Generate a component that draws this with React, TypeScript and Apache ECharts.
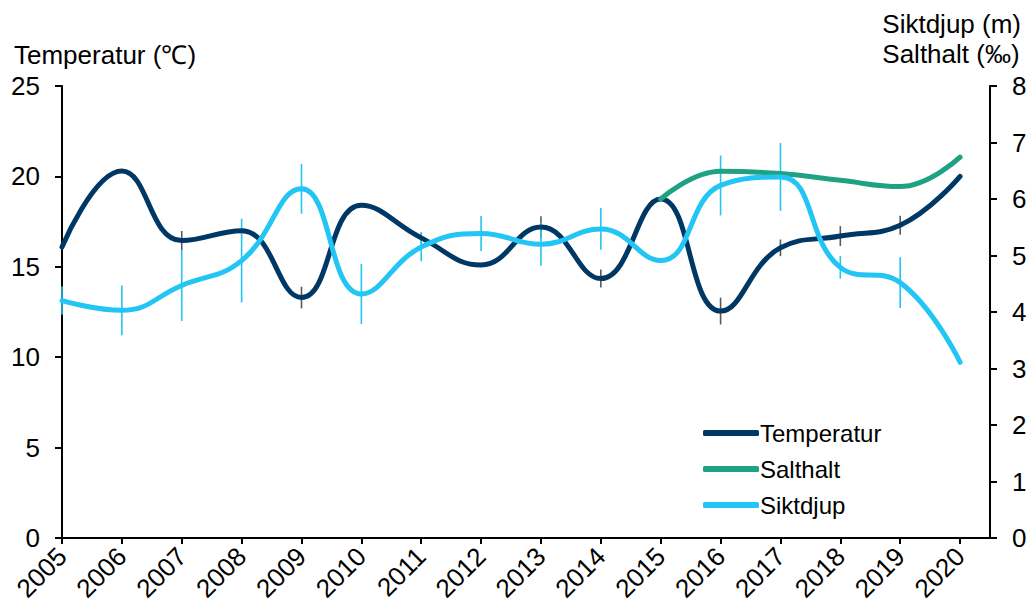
import React, { useEffect, useRef } from "react";
import * as echarts from "echarts";

const years = [2005, 2006, 2007, 2008, 2009, 2010, 2011, 2012, 2013, 2014, 2015, 2016, 2017, 2018, 2019, 2020];
const temperatur = [16.1, 20.3, 16.45, 17.0, 13.3, 18.4, 16.6, 15.1, 17.2, 14.35, 18.75, 12.55, 16.05, 16.7, 17.3, 20.0];
const tempErr = [0, 0, 0.53, 0, 0.6, 0, 0.3, 0, 0.6, 0.5, 0, 0.74, 0.46, 0.55, 0.53, 0];
const salthaltYears = [2015, 2016, 2017, 2018, 2019, 2020];
const salthalt = [6.0, 6.49, 6.45, 6.33, 6.22, 6.74];
const siktdjup = [4.2, 4.03, 4.47, 4.91, 6.18, 4.32, 5.15, 5.39, 5.2, 5.47, 4.91, 6.24, 6.39, 4.79, 4.52, 3.11];
const siktErr = [0.25, 0.44, 0.63, 0.74, 0.44, 0.53, 0.25, 0.31, 0.38, 0.37, 0, 0.53, 0.6, 0.2, 0.45, 0];
const leftTicks = [0, 5, 10, 15, 20, 25];
const rightTicks = [0, 1, 2, 3, 4, 5, 6, 7, 8];

const FONT = "'Liberation Sans', Arial, sans-serif";
const C_TEMP = "#003865";
const C_SALT = "#1fa283";
const C_SIKT = "#22c5f4";
const C_ERR_T = "#595959";

export default function App() {
  const ref = useRef<HTMLDivElement>(null);
  useEffect(() => {
    if (!ref.current) return;
    const chart = echarts.init(ref.current, null, { renderer: "svg" });
    const errRender = (color: string) => (params: any, api: any) => {
      const x = api.value(0);
      const lo = api.value(1);
      const hi = api.value(2);
      if (hi - lo <= 0) return null;
      const p1 = api.coord([x, lo]);
      const p2 = api.coord([x, hi]);
      return {
        type: "line",
        shape: { x1: p1[0], y1: p1[1], x2: p2[0], y2: p2[1] },
        style: { stroke: color, lineWidth: 1.6 },
      };
    };
    chart.setOption({
      animation: false,
      textStyle: { fontFamily: FONT },
      grid: { left: 62, right: 42, top: 86, bottom: 74, containLabel: false },
      legend: {
        orient: "vertical",
        left: 698,
        top: 416,
        itemWidth: 56,
        itemHeight: 6,
        itemGap: 12,
        icon: "roundRect",
        data: ["Temperatur", "Salthalt", "Siktdjup"],
        textStyle: { fontFamily: FONT, fontSize: 24, color: "#000", padding: [0, 0, 0, -4] },
      },
      graphic: [
        {
          type: "text",
          left: 14,
          top: 42,
          style: { text: "Temperatur (℃)", font: `26px ${FONT}`, fill: "#000" },
        },
        {
          type: "text",
          right: 11,
          top: 9,
          style: {
            text: "Siktdjup (m)\nSalthalt (‰)",
            font: `26px ${FONT}`,
            fill: "#000",
            align: "right",
            lineHeight: 30,
          },
        },
      ],
      xAxis: {
        type: "value",
        min: 2005,
        max: 2020.5,
        interval: 1,
        splitLine: { show: false },
        axisLine: { show: true, lineStyle: { color: "#000", width: 2 } },
        axisTick: { show: true, length: 6, lineStyle: { color: "#000", width: 2 }, customValues: years },
        axisLabel: {
          customValues: years,
          rotate: 45,
          margin: 14,
          fontSize: 26,
          color: "#000",
          fontFamily: FONT,
          formatter: (v: number) => String(v),
        },
      },
      yAxis: [
        {
          type: "value",
          min: 0,
          max: 25,
          interval: 5,
          splitLine: { show: false },
          axisLine: { show: true, lineStyle: { color: "#000", width: 2 } },
          axisTick: { show: true, length: 7, lineStyle: { color: "#000", width: 2 }, customValues: leftTicks },
          axisLabel: { margin: 22, fontSize: 26, color: "#000", fontFamily: FONT, customValues: leftTicks },
        },
        {
          type: "value",
          min: 0,
          max: 8,
          interval: 1,
          position: "right",
          splitLine: { show: false },
          axisLine: { show: true, lineStyle: { color: "#000", width: 2 } },
          axisTick: { show: true, length: 7, lineStyle: { color: "#000", width: 2 }, customValues: rightTicks },
          axisLabel: { margin: 22, fontSize: 26, color: "#000", fontFamily: FONT, customValues: rightTicks },
        },
      ],
      series: [
        {
          name: "Temperatur",
          type: "line",
          yAxisIndex: 0,
          smooth: 0.45,
          symbol: "none",
          color: C_TEMP,
          lineStyle: { color: C_TEMP, width: 5, cap: "round" },
          data: years.map((y, i) => [y, temperatur[i]]),
        },
        {
          name: "TempErr",
          type: "custom",
          yAxisIndex: 0,
          renderItem: errRender(C_ERR_T),
          data: years.map((y, i) => [y, temperatur[i] - tempErr[i], temperatur[i] + tempErr[i]]),
          encode: { x: 0, y: [1, 2] },
          silent: true,
        },
        {
          name: "Salthalt",
          type: "line",
          yAxisIndex: 1,
          smooth: 0.45,
          symbol: "none",
          color: C_SALT,
          lineStyle: { color: C_SALT, width: 5, cap: "round" },
          data: salthaltYears.map((y, i) => [y, salthalt[i]]),
        },
        {
          name: "Siktdjup",
          type: "line",
          yAxisIndex: 1,
          smooth: 0.45,
          symbol: "none",
          color: C_SIKT,
          lineStyle: { color: C_SIKT, width: 5, cap: "round" },
          data: years.map((y, i) => [y, siktdjup[i]]),
        },
        {
          name: "SiktErr",
          type: "custom",
          yAxisIndex: 1,
          renderItem: errRender(C_SIKT),
          data: years.map((y, i) => [y, siktdjup[i] - siktErr[i], siktdjup[i] + siktErr[i]]),
          encode: { x: 0, y: [1, 2] },
          silent: true,
        },
      ],
    });
    return () => chart.dispose();
  }, []);
  return <div ref={ref} style={{ width: 1032, height: 612, position: "absolute", left: 0, top: 0 }} />;
}
